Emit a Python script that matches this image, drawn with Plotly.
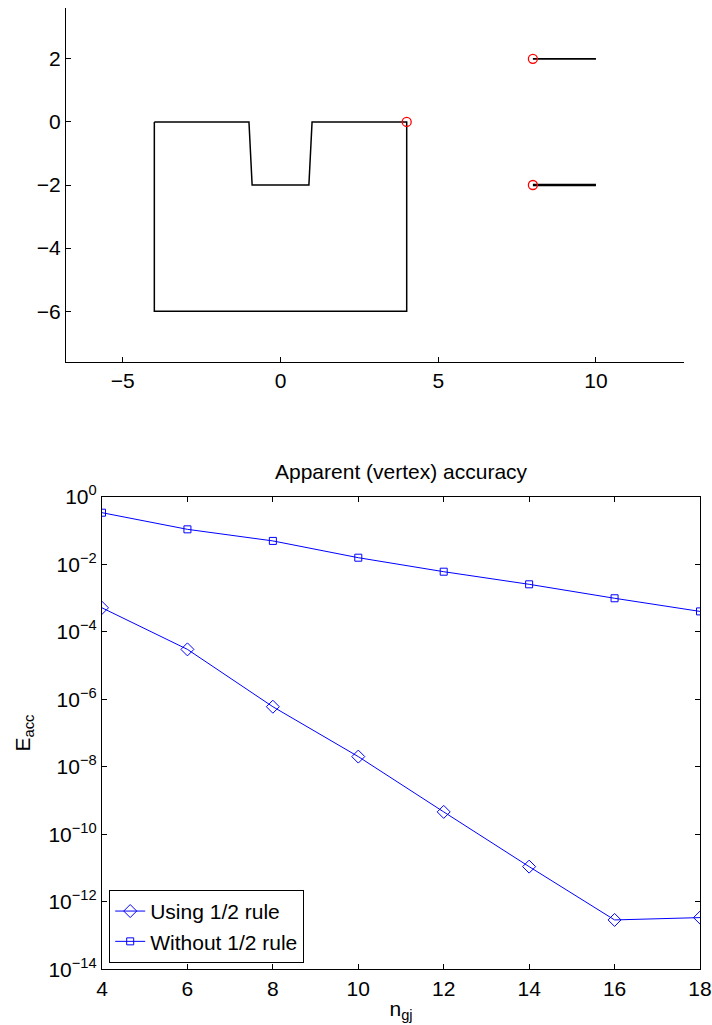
import plotly.graph_objects as go

# ---- Top panel data ----
shape_x = [-4, -1, -0.9, 0.9, 1, 4, 4, -4, -4]
shape_y = [0, 0, -2, -2, 0, 0, -6, -6, 0]
seg1_x = [8, 10]
seg1_y = [2, 2]
seg2_x = [8, 10]
seg2_y = [-2, -2]
circ_x = [4, 8, 8]
circ_y = [0, 2, -2]
top_xticks = [-5, 0, 5, 10]
top_xticktext = ["−5", "0", "5", "10"]
top_yticks = [-6, -4, -2, 0, 2]
top_yticktext = ["−6", "−4", "−2", "0", "2"]

# ---- Bottom panel data ----
n_gj = [4, 6, 8, 10, 12, 14, 16, 18]
using_half = [5.1e-4, 3.0e-5, 6.0e-7, 2.0e-8, 4.6e-10, 1.1e-11, 2.9e-13, 3.4e-13]
without_half = [0.336, 0.108, 0.049, 0.0156, 0.0060, 0.00254, 9.8e-4, 4.0e-4]
log_tickvals = [1e0, 1e-2, 1e-4, 1e-6, 1e-8, 1e-10, 1e-12, 1e-14]
log_ticktext = ["10<sup>0</sup>", "10<sup>−2</sup>", "10<sup>−4</sup>", "10<sup>−6</sup>",
                "10<sup>−8</sup>", "10<sup>−10</sup>", "10<sup>−12</sup>", "10<sup>−14</sup>"]
bottom_xticks = [4, 6, 8, 10, 12, 14, 16, 18]

FONT = "Liberation Sans, Arial, sans-serif"
FS = 21
W, H = 712, 1025


def px(x):
    return x / W


def py(y):
    return (H - y) / H


fig = go.Figure()

# top panel
fig.add_trace(go.Scatter(x=shape_x, y=shape_y, mode="lines",
                         line=dict(color="black", width=1.5),
                         showlegend=False, xaxis="x", yaxis="y"))
fig.add_trace(go.Scatter(x=seg1_x, y=seg1_y, mode="lines",
                         line=dict(color="black", width=1.8),
                         showlegend=False, xaxis="x", yaxis="y"))
fig.add_trace(go.Scatter(x=seg2_x, y=seg2_y, mode="lines",
                         line=dict(color="black", width=2.5),
                         showlegend=False, xaxis="x", yaxis="y"))
fig.add_trace(go.Scatter(x=circ_x, y=circ_y, mode="markers",
                         marker=dict(symbol="circle-open", size=9, color="red",
                                     line=dict(width=1.3, color="red")),
                         showlegend=False, xaxis="x", yaxis="y"))

# bottom panel
fig.add_trace(go.Scatter(x=n_gj, y=using_half, mode="lines+markers",
                         name="Using 1/2 rule",
                         line=dict(color="#0000ff", width=1),
                         marker=dict(symbol="diamond-open", size=10, color="#0000ff",
                                     line=dict(width=1, color="#0000ff")),
                         xaxis="x2", yaxis="y2"))
fig.add_trace(go.Scatter(x=n_gj, y=without_half, mode="lines+markers",
                         name="Without 1/2 rule",
                         line=dict(color="#0000ff", width=1),
                         marker=dict(symbol="square-open", size=7, color="#0000ff",
                                     line=dict(width=1, color="#0000ff")),
                         xaxis="x2", yaxis="y2"))

axis_common = dict(showgrid=False, zeroline=False, showline=True, linecolor="black",
                   linewidth=1.2, ticks="inside", ticklen=5, tickwidth=1, tickcolor="black",
                   automargin=False,
                   tickfont=dict(family=FONT, size=FS, color="black"))

fig.update_layout(
    width=W, height=H,
    autosize=False,
    margin=dict(l=0, r=0, t=0, b=0, pad=0, autoexpand=False),
    paper_bgcolor="white", plot_bgcolor="white",
    font=dict(family=FONT, size=FS, color="black"),
    xaxis=dict(domain=[px(66), px(684.3)], range=[-6.8, 12.8], anchor="y",
               tickvals=top_xticks, ticktext=top_xticktext, mirror=False, **axis_common),
    yaxis=dict(domain=[py(361.7), py(8.3)], range=[-7.6, 3.6], anchor="x",
               tickvals=top_yticks, ticktext=top_yticktext, mirror=False,
               **axis_common),
    xaxis2=dict(domain=[px(102), px(700)], range=[4, 18], anchor="y2",
                tickvals=bottom_xticks, mirror="ticks", ticklabeloverflow="allow",
                title=dict(text="n<sub>gj</sub>", standoff=2,
                           font=dict(family=FONT, size=FS)),
                **axis_common),
    yaxis2=dict(domain=[py(969.3), py(496.7)], type="log", range=[-14, 0],
                anchor="x2", tickvals=log_tickvals, ticktext=log_ticktext, mirror="ticks",
                title=dict(text="E<sub>acc</sub>", standoff=12,
                           font=dict(family=FONT, size=FS)),
                **axis_common),
    legend=dict(x=px(109), y=py(962.7), xanchor="left", yanchor="bottom",
                bordercolor="black", borderwidth=1.2, bgcolor="white",
                font=dict(family=FONT, size=FS, color="black"),
                tracegroupgap=0, itemwidth=30),
    annotations=[dict(text="Apparent (vertex) accuracy", x=px(401), y=py(472),
                      xref="paper", yref="paper", showarrow=False,
                      xanchor="center", yanchor="middle",
                      font=dict(family=FONT, size=FS, color="black"))],
)

post = ("document.documentElement.style.margin='0';"
        "document.documentElement.style.overflow='hidden';"
        "document.body.style.margin='0';document.body.style.overflow='hidden';")

fig.write_html("out.html", post_script=post, config={"displayModeBar": False})
